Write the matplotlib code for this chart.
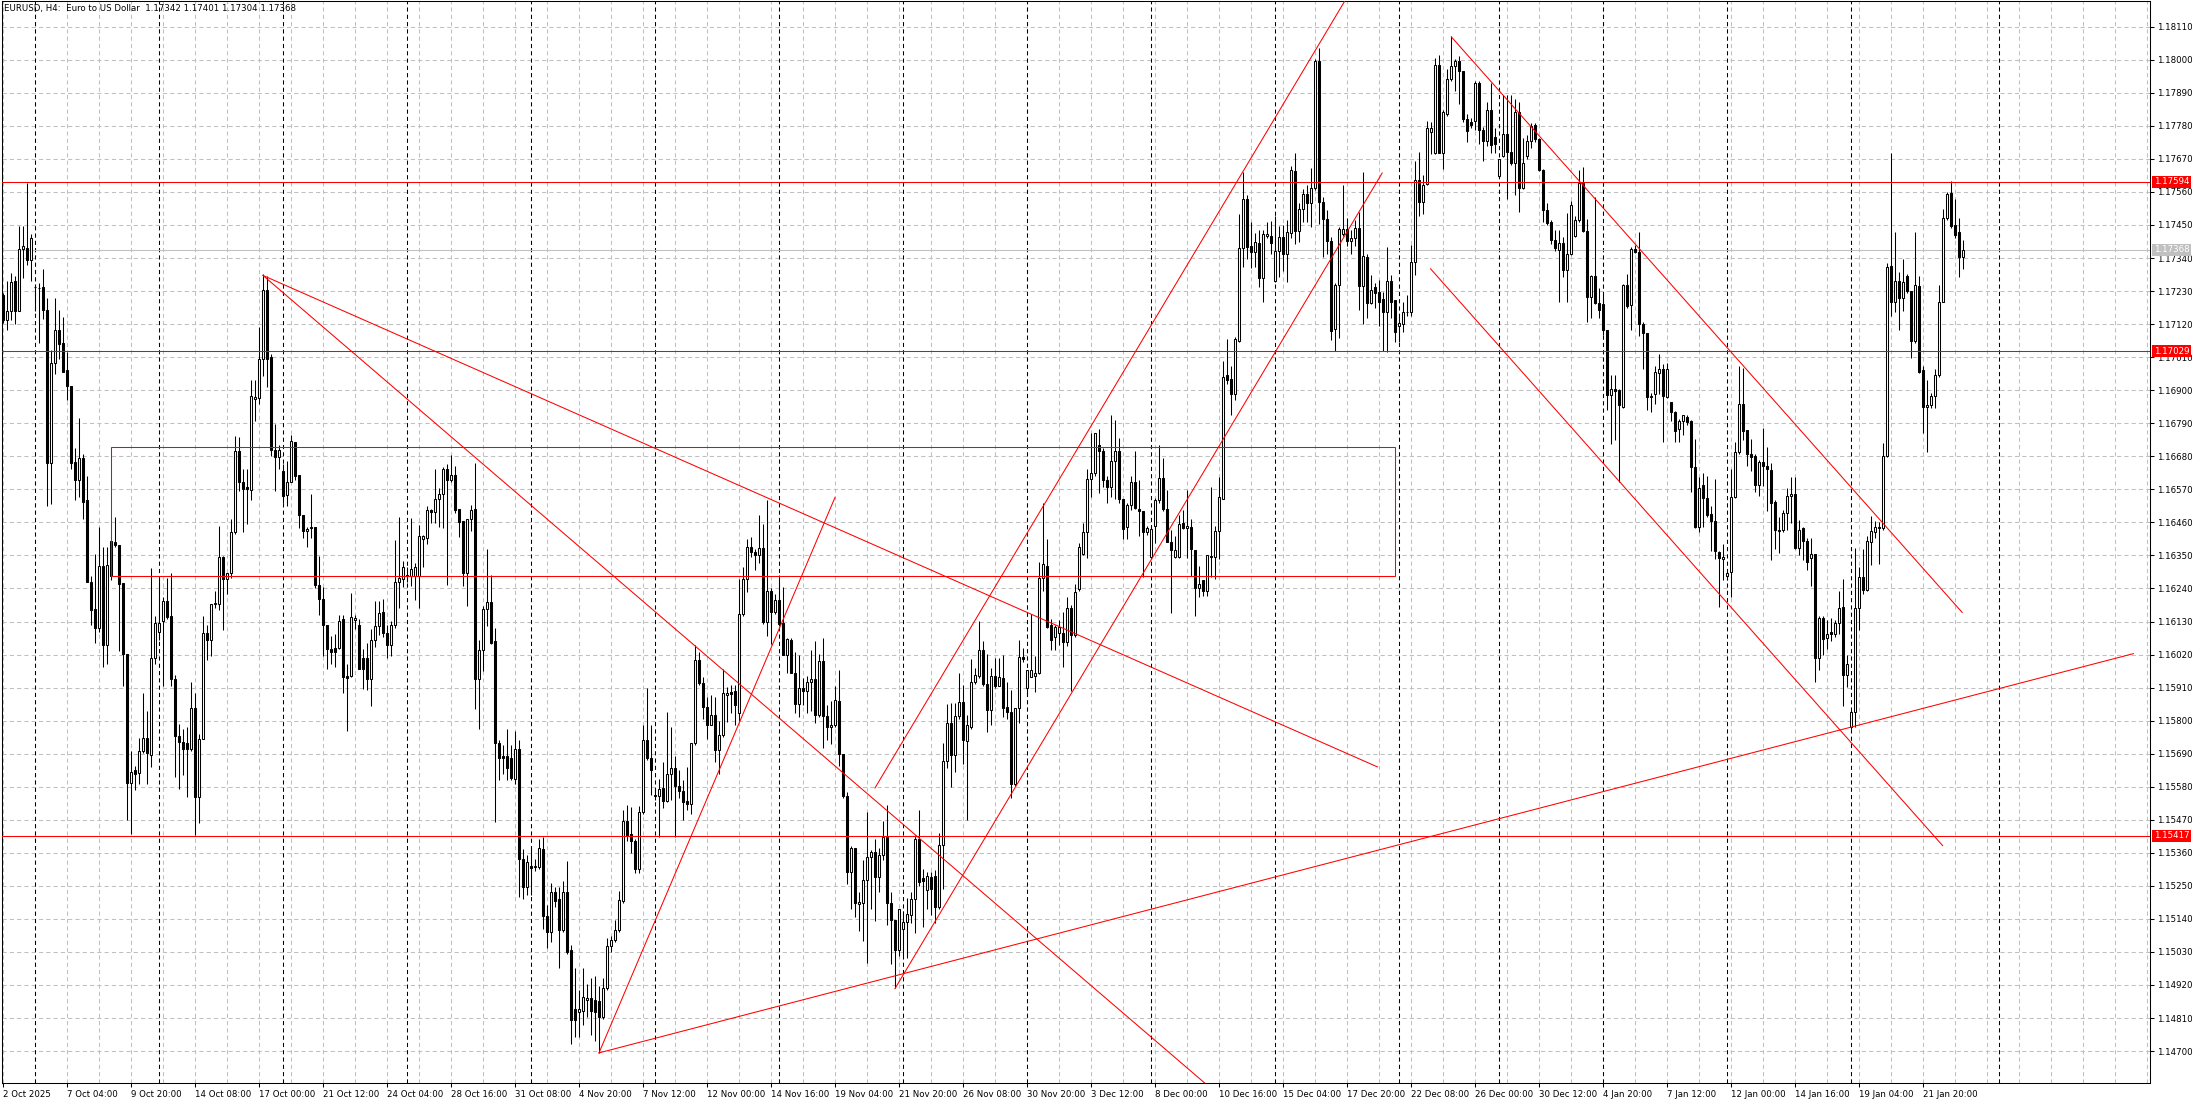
import numpy as np
import matplotlib
matplotlib.use("Agg")
import matplotlib.pyplot as plt
from matplotlib import font_manager
from matplotlib.patches import Rectangle
from matplotlib.transforms import blended_transform_factory

# ---------------- data ----------------
BASE = 1.14          # prices below are stored in pips above 1.1400
PIP = 0.0001

opens = [
321.7,313.5,316.4,326.5,316.4,337.0,337.3,333.4,324.5,324.0,
324.3,316.7,265.8,299.1,309.9,305.8,296.6,291.5,266.1,260.1,
267.3,253.6,226.2,217.2,211.0,231.5,205.2,228.3,239.4,238.4,
225.7,202.3,159.3,163.4,162.6,169.9,174.2,168.4,200.9,209.6,
213.2,219.7,214.9,193.7,174.9,173.0,172.7,170.6,184.3,154.7,
173.8,209.1,207.0,218.9,218.9,234.4,227.2,229.0,242.8,269.8,
259.6,257.9,256.9,287.1,287.5,300.5,323.2,301.2,270.2,267.7,
263.0,255.0,259.6,272.6,261.8,248.5,243.2,244.6,244.6,225.0,
220.4,212.0,203.8,204.2,204.2,213.9,194.7,194.7,213.5,211.7,
200.9,200.9,193.7,206.7,211.4,216.0,209.1,205.2,211.7,226.2,
227.3,228.0,228.0,228.0,228.0,240.5,240.8,250.0,249.3,253.9,
255.6,263.8,260.2,261.9,250.4,246.4,229.3,247.1,250.4,194.0,
203.6,217.1,219.4,206.5,172.7,168.1,168.1,167.4,160.6,170.7,
133.9,124.7,131.6,131.2,131.2,137.2,114.8,109.5,122.9,120.7,
110.2,122.9,103.6,83.9,82.9,83.2,87.1,87.8,87.1,86.7,
81.2,91.1,104.9,106.9,110.2,120.1,146.6,142.4,139.8,130.6,
149.7,173.4,167.7,155.2,154.9,157.6,153.4,162.2,164.1,158.2,
156.6,153.4,152.3,172.4,200.3,192.4,184.5,178.6,181.9,170.1,
175.3,188.5,189.6,189.8,182.6,215.5,227.3,237.9,236.1,235.2,
237.5,212.8,223.1,216.1,220.1,212.5,201.7,206.9,196.0,185.5,
190.7,190.0,192.8,193.9,181.9,199.8,181.6,178.0,178.5,186.6,
169.0,155.0,129.6,137.7,119.1,119.4,126.9,134.6,136.4,127.8,
135.4,141.4,119.4,113.7,103.8,110.6,112.9,115.3,120.5,140.5,
127.5,123.5,127.8,128.2,118.0,138.7,166.7,179.2,168.6,181.6,
186.2,173.1,178.0,193.0,194.8,203.6,192.1,183.5,194.8,191.4,
194.1,184.6,183.0,158.8,184.2,201.2,190.7,194.4,194.8,195.9,
227.4,231.5,211.8,207.9,209.1,209.3,206.1,217.5,208.4,223.7,
235.6,242.8,260.4,262.3,271.8,269.9,260.0,257.7,266.4,269.9,
253.9,244.3,251.9,259.3,250.5,249.8,242.8,234.6,244.7,253.6,
260.7,250.5,239.6,234.6,234.6,245.8,244.1,244.4,236.9,224.3,
226.7,223.3,234.9,234.6,243.1,253.9,295.1,293.7,288.6,306.4,
337.2,353.8,338.1,335.9,339.0,327.3,341.3,341.3,326.3,336.5,
341.0,335.4,342.4,363.0,343.1,350.4,355.3,352.2,357.2,399.7,
352.6,347.1,339.5,310.4,325.0,342.0,343.8,339.5,340.6,344.0,
324.6,334.5,319.1,324.3,322.7,320.2,316.1,326.3,319.9,311.4,
312.1,315.9,315.9,332.7,359.9,352.8,358.5,375.9,369.1,398.3,
369.1,382.0,393.6,397.9,399.7,396.3,380.3,379.3,379.7,392.2,
376.6,372.9,383.4,374.3,361.3,367.8,375.3,369.4,365.7,382.7,
357.2,367.8,372.9,378.4,373.5,363.4,350.1,346.0,339.9,336.8,
339.0,330.0,335.4,341.3,346.7,358.9,343.1,320.9,328.1,318.9,
318.8,310.2,288.3,290.5,289.9,284.5,324.9,318.5,337.0,336.1,
312.2,309.0,287.9,288.6,295.6,297.1,287.9,286.0,282.6,277.1,
279.7,281.2,279.9,264.4,244.6,258.4,254.2,248.7,246.5,236.0,
233.8,228.3,229.6,254.6,269.5,285.4,276.7,268.6,268.2,258.6,
266.0,264.9,263.5,252.9,243.1,243.4,249.1,254.8,255.5,237.6,
244.0,239.8,234.2,235.5,200.7,214.1,207.4,209.6,209.0,212.5,
217.9,195.2,177.8,182.9,217.6,227.7,223.6,239.5,242.7,244.6,
244.0,268.2,331.3,319.2,326.4,320.8,328.1,323.0,306.4,324.6,
296.6,284.4,285.1,288.2,295.0,319.5,347.2,355.8,345.0,342.5,
334.2]

highs = [
322.2,326.5,329.1,327.9,344.8,344.5,359.0,341.9,324.5,325.8,
330.5,320.7,303.4,320.7,316.7,314.2,302.7,291.5,270.9,280.7,
268.7,261.5,228.3,235.5,244.6,237.7,237.7,239.9,247.8,238.4,
225.7,202.3,169.9,164.8,174.2,189.3,183.1,230.8,214.9,227.6,
221.1,227.6,229.3,195.1,178.8,177.1,177.8,193.0,189.3,175.6,
214.9,211.7,218.9,223.3,244.9,234.8,229.0,247.1,274.9,274.5,
263.7,263.7,293.3,293.3,311.0,328.7,327.9,301.9,278.8,271.6,
265.4,266.3,275.2,272.6,261.8,248.5,244.6,255.3,244.6,234.8,
224.4,212.0,208.1,208.8,215.3,215.3,198.7,222.6,215.3,213.9,
203.8,205.9,210.6,219.7,219.7,220.4,211.7,213.2,240.0,247.8,
233.3,231.3,247.5,232.6,245.1,241.8,251.3,250.4,263.8,257.6,
264.4,265.5,268.4,264.8,250.4,246.4,247.1,251.7,265.8,206.9,
218.1,237.2,228.6,210.9,173.4,172.0,177.3,172.0,176.4,173.4,
137.2,135.2,137.8,133.9,140.5,141.1,118.7,126.0,124.7,124.7,
126.6,133.2,105.2,97.7,90.4,97.7,92.4,94.4,95.0,91.8,
94.4,107.5,108.2,113.5,123.3,150.3,152.0,151.2,140.5,151.6,
178.6,190.9,178.6,157.6,160.5,166.1,182.8,178.0,168.1,163.5,
160.2,164.4,172.7,205.2,203.0,194.4,187.8,188.5,187.8,179.9,
197.3,191.1,191.8,191.8,227.3,231.0,240.5,241.2,237.2,248.4,
245.5,253.4,224.0,222.1,228.6,224.4,207.6,207.6,203.0,201.7,
194.1,194.8,203.6,206.4,202.3,207.4,185.3,186.6,191.4,196.8,
169.0,156.1,138.4,137.7,122.8,133.6,149.6,137.0,140.5,137.7,
146.6,152.0,122.8,113.7,117.4,116.7,120.8,122.8,141.8,150.4,
130.5,129.6,129.6,130.3,142.5,172.4,185.7,186.0,186.0,195.8,
191.7,181.9,200.6,197.5,213.1,206.6,202.3,197.5,200.9,200.9,
202.0,192.8,190.3,184.2,207.0,204.3,196.8,215.6,201.6,232.8,
252.5,240.6,213.8,211.8,213.4,216.1,221.3,218.6,225.6,239.0,
245.8,263.7,275.6,275.6,277.2,270.9,261.4,281.7,280.0,274.0,
253.9,252.5,261.4,269.9,260.0,249.8,244.7,245.1,254.2,271.8,
267.5,256.9,243.3,241.4,248.4,250.0,256.9,247.1,236.9,231.5,
226.7,235.2,257.7,244.8,261.1,299.8,306.9,298.2,307.7,348.8,
362.6,354.9,346.0,342.2,343.3,343.3,346.0,346.3,348.1,344.7,
345.0,346.7,364.7,369.1,352.2,356.9,358.3,364.0,400.4,403.8,
354.2,350.1,340.9,325.7,344.4,358.3,347.4,343.3,346.7,349.4,
362.6,335.2,328.4,325.7,326.7,322.7,337.6,328.4,319.9,314.8,
319.5,321.6,338.2,366.2,369.4,361.7,379.7,379.3,400.7,401.7,
383.4,397.0,407.9,400.4,401.1,396.3,382.0,380.7,392.9,392.9,
377.6,386.1,392.2,377.3,367.1,388.2,388.4,388.2,387.1,386.1,
373.9,374.8,378.9,378.9,373.9,363.7,352.2,346.7,343.3,343.3,
340.9,349.0,353.1,348.1,363.4,364.4,347.1,328.4,354.2,324.0,
321.7,310.2,295.0,295.0,290.5,325.5,328.7,337.6,338.3,342.7,
312.8,309.0,289.2,298.1,302.2,298.8,299.0,286.0,283.1,280.3,
281.8,281.8,280.1,273.9,261.2,262.5,261.5,251.6,260.6,236.4,
238.9,230.0,263.7,272.9,298.1,297.5,276.7,273.7,268.8,266.9,
277.5,271.0,265.7,253.6,247.8,250.0,257.6,261.2,261.2,246.9,
244.6,240.8,240.8,235.5,214.7,214.7,213.4,214.1,213.4,223.0,
227.1,202.0,183.5,237.6,231.3,237.2,241.5,248.2,246.5,246.2,
272.4,332.5,368.8,342.7,329.4,333.8,328.7,323.0,342.7,328.1,
298.1,293.3,289.2,297.1,324.9,350.4,356.1,359.5,353.6,347.2,
340.1]

lows = [
312.5,310.2,313.5,312.1,316.4,327.2,331.8,326.5,316.4,305.8,
313.8,251.4,252.1,295.5,300.5,296.2,286.8,263.7,253.6,254.3,
247.1,226.2,211.7,205.9,209.6,198.0,198.7,226.9,237.7,203.1,
191.5,146.8,142.4,156.9,159.0,169.1,159.0,164.4,198.7,207.0,
191.5,213.9,191.5,161.2,157.2,161.9,154.7,169.9,142.0,146.0,
173.8,200.2,201.6,217.5,216.8,210.3,222.0,227.6,242.0,256.5,
242.8,245.6,253.6,279.9,285.3,294.7,291.1,268.0,256.5,263.7,
252.4,251.4,259.4,260.1,244.2,240.9,237.7,240.9,224.0,215.3,
201.6,197.3,198.7,198.0,203.8,189.3,176.4,194.4,210.6,197.3,
190.4,190.1,185.0,204.5,208.5,207.7,200.9,201.6,211.0,217.5,
224.4,226.0,224.7,220.1,217.5,231.3,238.9,245.8,245.8,244.4,
244.2,225.1,259.6,249.0,241.2,224.7,218.1,243.1,183.9,177.3,
196.4,211.5,205.6,146.4,160.2,162.2,160.2,160.2,158.9,121.4,
120.7,122.0,122.0,129.9,130.6,110.8,104.3,106.2,118.1,97.7,
109.5,102.3,72.4,74.6,74.6,78.6,81.2,75.3,73.3,69.4,
80.6,90.4,102.9,106.2,109.5,119.4,139.8,135.8,129.3,129.3,
149.0,166.8,155.2,153.6,141.1,151.0,153.0,153.6,141.1,154.3,
146.8,150.3,149.0,172.0,191.8,180.6,174.0,178.4,166.1,162.2,
174.7,179.7,182.6,178.6,179.9,214.8,222.7,234.6,230.0,232.6,
212.2,208.2,205.6,215.5,211.5,201.7,195.7,195.7,182.6,181.3,
185.3,182.6,183.3,179.2,181.2,171.0,173.7,172.1,177.8,164.9,
154.4,125.5,117.4,114.6,109.9,106.5,99.3,117.4,113.3,122.8,
133.6,111.9,99.0,90.9,101.5,101.7,101.1,112.6,109.2,124.8,
111.2,117.4,115.3,112.6,117.4,124.1,164.2,158.0,162.9,180.5,
165.6,146.8,177.1,192.1,194.1,191.4,176.2,178.5,190.7,191.4,
181.2,180.5,154.4,158.1,179.2,199.6,189.0,194.4,189.4,195.5,
223.3,210.7,203.4,203.4,205.3,197.9,205.0,190.0,207.7,223.3,
235.2,234.2,254.5,261.4,255.9,257.9,252.5,254.5,253.9,252.3,
240.6,240.6,250.0,250.5,241.4,227.8,241.9,233.8,239.0,252.5,
249.8,239.6,215.9,234.2,234.2,243.7,234.2,228.0,214.8,221.0,
221.6,221.6,227.8,227.2,233.9,253.7,292.0,281.9,286.9,306.0,
331.1,333.8,330.8,331.1,324.3,319.3,340.6,335.2,325.9,327.7,
329.7,325.9,340.6,338.6,339.2,346.0,346.0,344.4,356.6,345.4,
334.5,335.4,306.6,303.2,307.3,341.3,337.9,335.2,337.9,316.8,
312.1,314.1,318.6,317.5,311.4,303.2,302.6,314.1,306.0,306.0,
309.4,314.8,314.8,328.4,348.1,348.8,358.3,368.5,368.5,369.1,
363.7,381.4,392.9,389.5,385.4,379.3,372.5,377.3,376.6,371.9,
366.4,371.2,369.1,369.1,361.0,367.5,353.5,365.1,354.9,349.4,
356.9,367.1,370.5,372.5,363.0,346.0,345.0,338.6,336.5,319.5,
327.7,319.5,334.9,340.9,346.0,342.6,312.8,314.1,318.6,314.1,
308.3,283.5,272.0,273.3,259.3,284.1,317.2,310.2,335.7,308.1,
296.9,283.5,282.9,285.4,288.6,272.7,287.3,279.7,272.7,272.7,
275.2,278.4,256.1,244.0,242.7,244.6,247.8,236.4,233.8,217.9,
226.8,226.8,221.1,254.2,268.8,273.3,264.8,263.1,256.1,254.8,
258.0,249.7,233.4,237.0,235.7,242.7,243.4,245.9,237.0,235.1,
233.4,230.0,224.9,192.7,196.9,202.0,203.9,206.4,207.7,209.0,
184.8,191.1,177.1,177.8,210.2,222.3,223.0,231.9,240.8,232.2,
243.4,267.6,314.7,316.0,310.2,316.2,322.3,300.7,305.8,295.6,
275.8,269.5,284.1,284.1,294.3,319.2,346.6,344.0,340.8,327.8,
330.4]

closes = [
313.5,316.4,326.1,316.4,336.9,338.0,333.4,340.6,324.3,323.9,
316.7,265.6,299.1,309.9,305.3,296.2,291.5,265.8,260.1,267.3,
252.9,226.2,216.8,211.0,231.5,205.2,231.9,239.9,238.4,225.4,
202.3,159.3,162.9,162.2,169.9,174.2,169.1,200.9,212.4,212.4,
219.7,214.6,193.7,174.9,173.0,170.6,170.6,184.3,154.7,173.8,
209.1,207.0,218.9,219.3,234.4,227.2,229.0,242.8,269.8,259.6,
257.2,257.2,288.2,287.9,300.5,323.2,300.5,270.2,267.7,270.2,
254.7,259.6,273.1,261.5,248.5,243.2,243.8,244.2,225.0,220.4,
212.0,203.8,202.8,202.8,213.2,194.4,194.1,214.6,214.3,197.3,
197.3,193.7,206.7,211.4,215.8,209.1,205.2,211.7,226.2,227.6,
231.0,228.6,230.6,231.0,241.4,241.4,250.0,249.4,253.9,255.6,
263.8,260.2,261.9,250.0,246.0,229.3,247.1,250.0,194.0,203.6,
217.1,219.4,205.9,172.7,167.4,167.4,164.1,160.9,170.7,133.9,
124.7,133.0,131.0,131.6,137.6,114.8,109.5,122.9,120.1,110.2,
122.9,102.9,80.3,80.3,83.9,88.1,87.8,83.2,82.9,81.2,
91.1,104.9,106.9,110.2,120.3,146.6,141.8,139.8,130.6,149.7,
173.4,167.7,163.5,154.9,157.3,153.4,162.2,164.1,158.2,156.6,
153.0,152.3,172.7,200.3,192.4,184.5,178.4,181.9,170.1,175.3,
189.2,189.2,188.9,185.2,215.5,227.3,237.9,236.1,235.2,237.5,
212.8,223.1,216.1,220.1,212.2,201.7,207.2,195.7,185.5,190.7,
190.0,192.8,193.9,181.9,199.8,181.6,177.8,178.5,186.9,169.0,
155.0,129.6,137.7,119.4,119.7,126.9,134.6,136.4,127.8,135.4,
141.1,119.4,113.7,103.8,117.4,112.9,115.6,120.5,140.5,126.2,
126.5,128.2,124.1,118.0,138.7,166.7,179.2,168.6,181.6,186.2,
173.7,178.5,193.0,195.2,203.6,192.1,183.5,194.8,191.4,194.4,
184.2,183.0,158.8,184.2,201.2,200.5,196.8,196.8,195.9,227.4,
232.2,211.1,207.0,211.1,211.1,206.1,217.5,208.4,222.9,237.9,
242.8,260.4,262.3,275.6,269.9,260.0,257.7,266.4,269.9,253.9,
243.7,251.9,259.3,250.9,249.8,242.8,244.1,243.7,253.6,260.7,
250.5,239.6,236.9,236.9,245.5,244.1,244.7,237.3,224.3,225.6,
223.3,235.2,234.4,243.1,254.6,294.4,293.3,288.6,307.0,337.2,
353.8,337.6,335.9,339.2,327.3,342.0,342.0,339.0,336.5,341.0,
335.4,342.6,363.4,342.9,350.4,355.3,352.2,357.2,399.7,352.6,
347.1,339.5,309.6,325.0,343.8,343.8,339.5,340.6,344.0,324.6,
334.8,319.1,323.2,322.3,319.5,316.1,326.3,319.5,309.4,312.3,
316.1,316.1,332.7,359.9,352.6,358.3,377.3,377.3,398.3,369.1,
382.7,393.6,397.9,399.7,396.3,380.3,376.2,378.4,392.2,376.6,
372.9,383.4,371.6,371.9,367.1,375.3,369.4,365.7,382.7,357.2,
365.7,372.9,378.0,373.5,363.4,350.1,345.8,339.9,337.2,339.0,
330.0,335.4,351.7,346.7,358.9,343.1,320.9,328.1,318.9,316.8,
310.0,288.3,290.5,289.6,285.1,324.9,317.9,337.0,336.1,312.2,
309.0,287.9,288.2,296.2,297.1,288.2,297.1,282.6,276.5,279.7,
281.6,279.3,264.4,244.6,257.6,254.2,248.5,246.5,236.4,234.2,
234.4,229.1,254.6,269.5,285.4,276.5,268.6,267.6,258.6,266.0,
264.9,263.7,252.5,243.4,243.6,249.1,254.8,255.5,237.6,243.6,
239.8,232.9,235.5,200.7,214.3,207.1,209.0,209.0,212.5,217.6,
195.2,199.0,182.9,217.6,227.7,223.6,239.8,243.1,244.4,244.0,
268.2,331.0,319.2,326.4,320.8,325.9,323.0,306.4,324.9,296.2,
284.4,285.1,288.2,295.0,319.5,347.2,355.2,344.6,341.5,334.2,
336.8]

time_labels = ["2 Oct 2025", "7 Oct 04:00", "9 Oct 20:00", "14 Oct 08:00", "17 Oct 00:00",
               "21 Oct 12:00", "24 Oct 04:00", "28 Oct 16:00", "31 Oct 08:00", "4 Nov 20:00",
               "7 Nov 12:00", "12 Nov 00:00", "14 Nov 16:00", "19 Nov 04:00", "21 Nov 20:00",
               "26 Nov 08:00", "30 Nov 20:00", "3 Dec 12:00", "8 Dec 00:00", "10 Dec 16:00",
               "15 Dec 04:00", "17 Dec 20:00", "22 Dec 08:00", "26 Dec 00:00", "30 Dec 12:00",
               "4 Jan 20:00", "7 Jan 12:00", "12 Jan 00:00", "14 Jan 16:00", "19 Jan 04:00",
               "21 Jan 20:00"]
time_label_bars = [0, 16, 32, 48, 64, 80, 96, 112, 128, 144, 160, 176, 192, 208, 224, 240,
                   256, 272, 288, 304, 320, 336, 352, 368, 384, 400, 416, 432, 448, 464, 480]
week_start_bars = [8, 39, 70, 101, 132, 163, 194, 225, 256, 287, 318, 349, 374, 400, 431, 462, 499]

price_ticks = [1.14700, 1.14810, 1.14920, 1.15030, 1.15140, 1.15250, 1.15360, 1.15470,
               1.15580, 1.15690, 1.15800, 1.15910, 1.16020, 1.16130, 1.16240, 1.16350,
               1.16460, 1.16570, 1.16680, 1.16790, 1.16900, 1.17010, 1.17120, 1.17230,
               1.17340, 1.17450, 1.17560, 1.17670, 1.17780, 1.17890, 1.18000, 1.18110]

level_prices = [1.17594, 1.17029, 1.15417]
bid_price = 1.17368
title = "EURUSD, H4:  Euro to US Dollar  1.17342 1.17401 1.17304 1.17368"

# trend lines: (bar, price) -> (bar, price)
trend_lines = [
    ((65.1, 1.17282), (343.7, 1.15646)),
    ((65.1, 1.17282), (300.5, 1.14594)),
    ((149.1, 1.14694), (208.1, 1.16543)),
    ((149.1, 1.14694), (532.7, 1.16023)),
    ((218.1, 1.15576), (340.0, 1.18295)),
    ((223.1, 1.14908), (344.9, 1.17623)),
    ((362.2, 1.18076), (489.9, 1.16160)),
    ((357.0, 1.17304), (485.0, 1.15384)),
]
rect_bars = (27.1, 348.1)
rect_prices = (1.16283, 1.16711)

# ---------------- figure ----------------
W, H = 2203, 1105
names = {f.name for f in font_manager.fontManager.ttflist}
if "Liberation Sans Narrow" in names:
    FAM, FS = "Liberation Sans Narrow", 7.4
else:
    FAM, FS = "DejaVu Sans", 6.2
plt.rcParams["font.family"] = [FAM, "DejaVu Sans"]

fig = plt.figure(figsize=(W / 100, H / 100), dpi=100)
fig.patch.set_facecolor("white")
ax = fig.add_axes([2 / W, (H - 1083) / H, 2148 / W, 1082 / H])
ax.set_facecolor("white")

GRID = "#c0c0c0"
DASH = (0, (4, 3))
LW = 0.75

ax.set_xlim(-0.15, 536.85)
ax.set_ylim(BASE + 59.37 * PIP, BASE + 419.56 * PIP)

# grid
for p in price_ticks:
    ax.axhline(p, color=GRID, lw=LW, ls=DASH, zorder=0.5)
for b in range(0, 537, 8):
    ax.axvline(b, color=GRID, lw=LW, ls=DASH, zorder=0.5)
for b in week_start_bars:
    ax.axvline(b, color="black", lw=LW, ls=DASH, zorder=1)

# bid line
ax.axhline(bid_price, color=GRID, lw=LW, zorder=1.5)

# candles
x = np.arange(len(opens))
o = BASE + np.array(opens) * PIP
h = BASE + np.array(highs) * PIP
l = BASE + np.array(lows) * PIP
c = BASE + np.array(closes) * PIP
up = c >= o
ax.vlines(x, l, h, color="black", lw=LW, zorder=3)
blo = np.minimum(o, c)
bh = np.abs(c - o)
ax.bar(x[up], bh[up], bottom=blo[up], width=0.55, facecolor="white",
       edgecolor="black", linewidth=LW, zorder=3.2)
ax.bar(x[~up], bh[~up], bottom=blo[~up], width=0.55, facecolor="black",
       edgecolor="black", linewidth=LW, zorder=3.2)

# objects
for p in level_prices:
    ax.axhline(p, color="red", lw=LW, zorder=4)
for (x1, y1), (x2, y2) in trend_lines:
    ax.plot([x1, x2], [y1, y2], color="red", lw=LW, zorder=4)
ax.add_patch(Rectangle((rect_bars[0], rect_prices[0]), rect_bars[1] - rect_bars[0],
                       rect_prices[1] - rect_prices[0], fill=False, edgecolor="red",
                       lw=LW, zorder=4))

# axes
for s in ax.spines.values():
    s.set_color("black")
    s.set_linewidth(LW)
ax.yaxis.tick_right()
ax.set_yticks(price_ticks)
ax.set_yticklabels([f"{p:.5f}" for p in price_ticks])
ax.set_xticks(time_label_bars)
ax.set_xticklabels(time_labels, ha="left")
ax.tick_params(axis="both", direction="out", length=3, width=LW, labelsize=FS,
               colors="black", pad=2)
ax.tick_params(axis="y", pad=2)

trans = blended_transform_factory(ax.transAxes, ax.transData)
for p in level_prices:
    ax.text(1 + 4 / 2148, p, f"{p:.5f}", transform=trans, ha="left", va="center",
            fontsize=FS, color="white", clip_on=False, zorder=10,
            bbox=dict(boxstyle="square,pad=0.18", fc="red", ec="none"))
ax.text(1 + 4 / 2148, bid_price, f"{bid_price:.5f}", transform=trans, ha="left",
        va="center", fontsize=FS, color="white", clip_on=False, zorder=10,
        bbox=dict(boxstyle="square,pad=0.18", fc=GRID, ec="none"))

ax.text(2 / 2148, 1 - 3 / 1082, title, transform=ax.transAxes, ha="left", va="top",
        fontsize=FS, color="black", zorder=10)

fig.savefig("out.png", dpi=100, facecolor="white")
